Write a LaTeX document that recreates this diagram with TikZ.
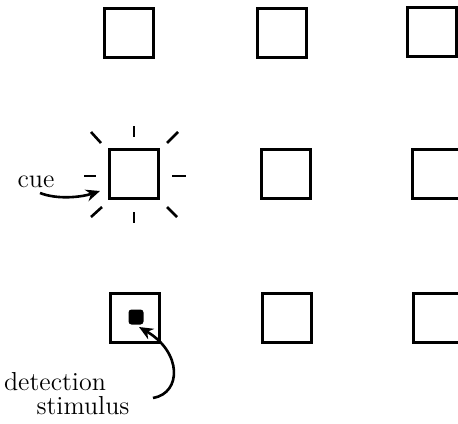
\documentclass[tikz,border=0pt]{standalone}
\usetikzlibrary{arrows.meta}
\begin{document}
\begin{tikzpicture}[x=0.5pt,y=-0.5pt,
  cell/.style={draw, line width=1.9pt, minimum size=24.5pt, inner sep=0pt},
  ray/.style={line width=1.3pt},
  lbl/.style={font=\fontsize{13}{15}\selectfont, inner sep=0pt},
  pointer/.style={line width=1.3pt, -{Stealth[length=7pt,width=6pt]}},
  stim/.style={fill=black, minimum size=7.5pt, inner sep=0pt, rounded corners=1.5pt}]
\useasboundingbox (0,0) rectangle (458,423);
\clip (0,0) rectangle (458,423);
% grid of boxes
\node[cell] (c11) at (129,33) {};
\node[cell] (c12) at (282,33) {};
\node[cell] (c13) at (432,32) {};
\node[cell] (c21) at (134,174) {};
\node[cell] (c22) at (286,174) {};
\node[cell] (c23) at (437,174) {};
\node[cell] (c31) at (135,318) {};
\node[cell] (c32) at (287,318) {};
\node[cell] (c33) at (438,318) {};
% rays around the cued box
\draw[ray] (134,126) -- (134,137);
\draw[ray] (134,212) -- (134,223);
\draw[ray] (84,176) -- (96,176);
\draw[ray] (172,176) -- (186,176);
\draw[ray] (91,132) -- (101,143);
\draw[ray] (167,143) -- (178,132);
\draw[ray] (91,217) -- (102,207);
\draw[ray] (167,207) -- (177,217);
% cue label and arrow
\node[lbl] (cue) at (36,182) {cue};
\coordinate (cuestart) at (40,193);
\coordinate (cuetip) at (100,191);
\draw[pointer] (cuestart) .. controls (58,200) and (82,197) .. (cuetip);
% detection stimulus
\node[stim] (dot) at (136,317) {};
\node[lbl] (det) at (55,382) {detection};
\node[lbl] (stimlbl) at (83,406) {stimulus};
\coordinate (detstart) at (153,398);
\coordinate (dettip) at (139,327);
\draw[pointer] (detstart) .. controls (182,393) and (182,352) .. (dettip);
\end{tikzpicture}
\end{document}
